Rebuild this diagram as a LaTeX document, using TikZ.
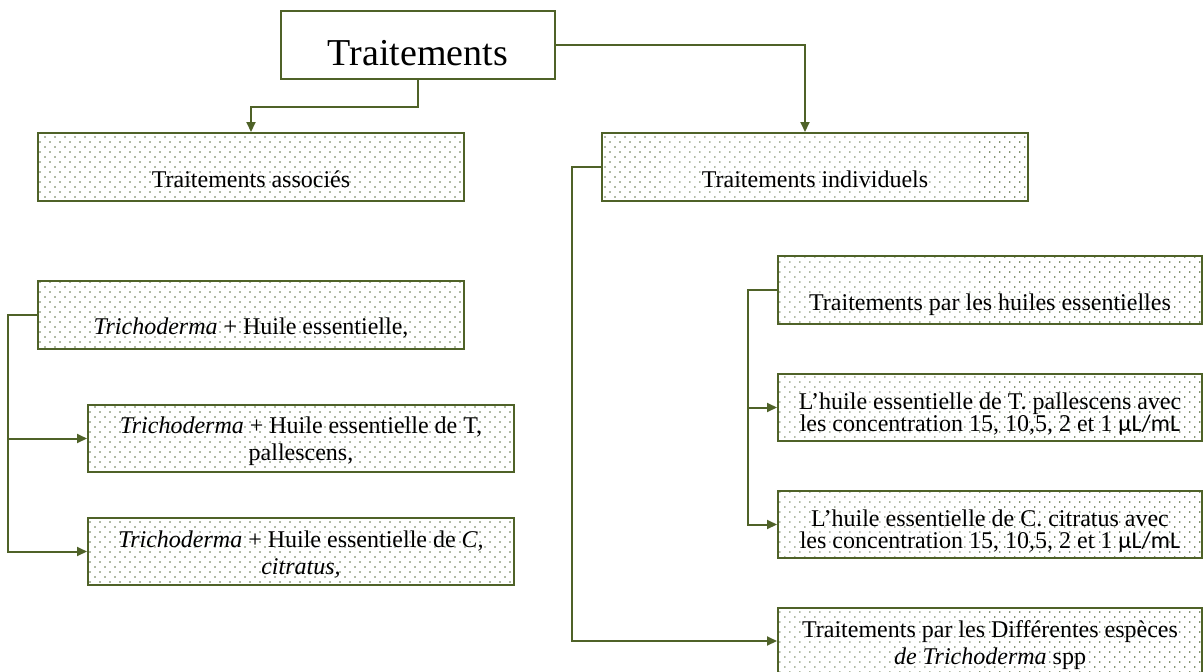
\documentclass[tikz,border=0pt]{standalone}
\usepackage{fontspec}
\setmainfont{Liberation Serif}
\newfontfamily\unitfont{Carlito}
\usetikzlibrary{patterns.meta,arrows.meta}
\definecolor{boxgreen}{RGB}{79,98,40}
\definecolor{dotgreen}{RGB}{70,95,45}
\newcommand{\dropline}[1]{\rule{0pt}{#1}}
\tikzset{
  dot box/.style={
    draw=boxgreen,
    line width=2pt,
    pattern={Dots[angle=45,distance=7.07pt,radius=0.85pt]},
    pattern color=dotgreen,
    minimum width={#1},
    minimum height={68pt},
    align=center,
    font=\fontsize{24}{27}\selectfont,
  },
  title box/.style={
    draw=boxgreen,
    line width=2pt,
    fill=white,
    minimum width={274pt},
    minimum height={68pt},
    font=\fontsize{38}{40}\selectfont,
  },
  low text/.style={
    text height=54pt,
    text depth=14pt,
    inner ysep=0pt,
  },
  link/.style={
    draw=boxgreen,
    line width=2pt,
    -{Triangle[length=10pt,width=9pt]},
  }
}

\begin{document}
\begin{tikzpicture}[x=1pt,y=-1pt]
    \useasboundingbox (0,0) rectangle (1203,672);

    \node [title box, low text] (trait) at (418,45) {Traitements};

    \node [dot box=426pt, low text] (assoc) at (251,167) {Traitements associés};
    \node [dot box=426pt, low text] (indiv) at (815,167) {Traitements individuels};

    % associated treatments
    \node [dot box=426pt, minimum height=67pt, low text] (ass1) at (251,314.5)
        {\textit{Trichoderma} + Huile essentielle,};
    \node [dot box=426pt, minimum height=67pt] (ass2) at (301,438.5)
        {\dropline{23pt}\textit{Trichoderma} + Huile essentielle de T,\\ pallescens,};
    \node [dot box=426pt, minimum height=67pt] (ass3) at (301,551.5)
        {\dropline{23pt}\textit{Trichoderma} + Huile essentielle de \textit{C,}\\ \textit{citratus,}};

    % individual treatments
    \node [dot box=424pt, low text] (ind1) at (990,290)
        {Traitements par les huiles essentielles};
    \node [dot box=424pt, minimum height=67pt, font=\fontsize{24}{22}\selectfont] (ind2) at (990,407.5)
        {\dropline{30pt}L'huile essentielle de T. pallescens avec\\ les concentration 15, 10,5, 2 et 1 {\unitfont µL/mL}};
    \node [dot box=424pt, minimum height=67pt, font=\fontsize{24}{22}\selectfont] (ind3) at (990,524.5)
        {\dropline{30pt}L'huile essentielle de C. citratus avec\\ les concentration 15, 10,5, 2 et 1 {\unitfont µL/mL}};
    \node [dot box=424pt, minimum height=66pt] (ind4) at (990,641)
        {\dropline{26pt}Traitements par les Différentes espèces\\ \textit{de Trichoderma} spp};

    \draw [link] (trait.south) -- ++(0,27) -| (assoc.north);
    \draw [link] (trait.east) -| ([xshift=-10pt]indiv.north);

    \draw [link] (ass1.west) -- ++(-29,0) |- (ass2.west);
    \draw [link] (ass1.west) -- ++(-29,0) |- (ass3.west);

    \draw [link] (indiv.west) -- ++(-29,0) |- (ind4.west);
    \draw [link] (ind1.west) -- ++(-29,0) |- (ind2.west);
    \draw [link] (ind1.west) -- ++(-29,0) |- (ind3.west);
\end{tikzpicture}
\end{document}
